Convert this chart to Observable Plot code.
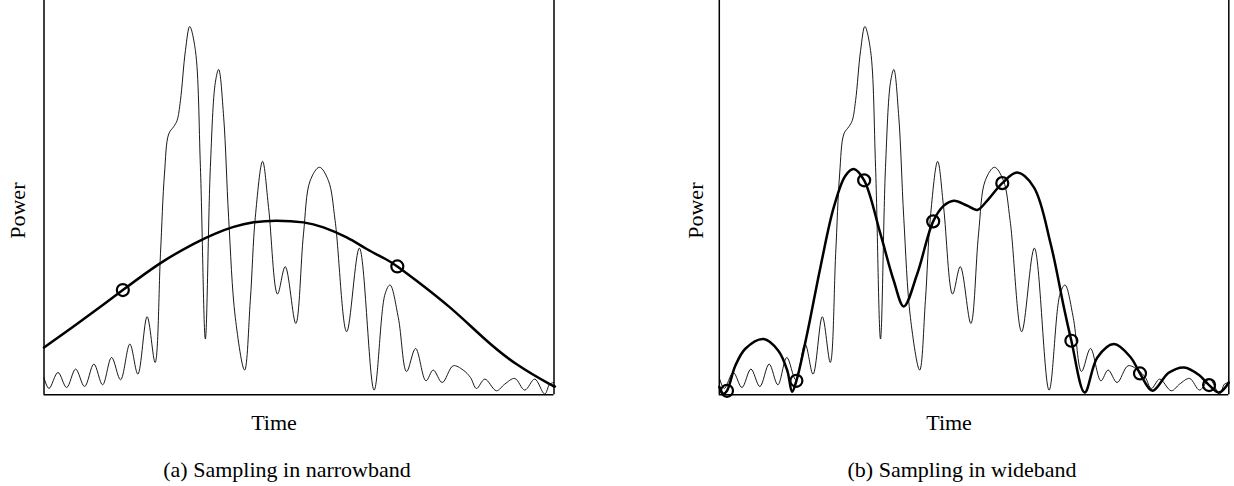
<!DOCTYPE html>
<html>
<head>
<meta charset="utf-8">
<script src="https://cdn.jsdelivr.net/npm/d3@7"></script>
<script src="https://cdn.jsdelivr.net/npm/@observablehq/plot@0.6"></script>
<style>
  html, body { margin: 0; padding: 0; background: #fff; }
  #wrap { display: flex; width: 1234px; height: 486px; }
</style>
</head>
<body>
<div id="wrap"></div>
<script>
// Underlying signal (thin line), same in both panels; time 0-100, power 0-100
const signalTime = [0, 0.98, 2.74, 4.44, 6.2, 7.96, 9.78, 11.49, 13.25, 15.01, 16.83, 18.4, 20.22, 21.78, 22.84, 23.62, 24.46, 25.44, 26.09, 26.75, 27.73, 28.57, 29.69, 30.67, 31.64, 32.62, 33.6, 34.25, 35.23, 36.2, 37.51, 39.33, 40.45, 41.43, 42.86, 44.03, 45.79, 47.3, 49.37, 50.88, 52.19, 54.01, 55.77, 57.08, 59.35, 61.84, 64.72, 66.87, 67.85, 69.47, 71.1, 72.86, 74.89, 76.32, 78.08, 80.23, 82.19, 83.62, 84.8, 86.44, 88.71, 90.35, 92.31, 94.27, 96.22, 98.18, 99.16, 100];
const signalPower = [4.3, 1.6, 5.66, 1.85, 6.52, 2.1, 7.79, 2.54, 9.47, 3.81, 12.87, 5.25, 19.8, 8.2, 35.79, 56.0, 66.17, 68.02, 69.54, 74.6, 87.3, 93.4, 87.3, 57.7, 14.14, 57.7, 79.26, 82.5, 70.4, 45.0, 19.6, 6.27, 23.86, 45.0, 59.2, 47.54, 25.56, 32.49, 18.1, 40.8, 54.3, 57.7, 54.3, 44.2, 16.0, 37.2, 1.19, 25.56, 27.84, 19.6, 5.9, 11.75, 3.55, 6.27, 3.12, 7.36, 6.27, 4.39, 1.6, 3.98, 1.02, 2.72, 4.14, 1.19, 3.98, 0.18, 2.72, 3.12];

// (a) narrowband reconstruction (thick line) and its samples
const narrowTime = [0, 6.52, 15.46, 22.84, 29.35, 33.6, 37.18, 41.1, 45.66, 50.88, 54.79, 59.35, 63.27, 66.87, 69.28, 73.05, 79.59, 86.1, 92.62, 99.16, 100];
const narrowPower = [12.0, 18.0, 26.57, 33.4, 38.3, 40.9, 42.6, 43.75, 44.16, 43.73, 42.46, 39.92, 36.98, 34.5, 32.56, 28.93, 22.16, 14.54, 7.79, 2.72, 2.28];
const narrowSampleTime = [15.46, 69.28];
const narrowSamplePower = [26.57, 32.56];

// (b) wideband reconstruction (thick line) and its samples
const wideTime = [0, 0.79, 1.51, 3.14, 5.11, 8.7, 11.59, 13.36, 14.28, 15.13, 17.23, 19.84, 22.46, 24.75, 26.39, 28.43, 31.63, 34.24, 36.21, 38.84, 41.98, 44.07, 46.03, 48.66, 50.63, 52.59, 55.54, 58.49, 61.75, 65.03, 67.64, 69.1, 71.71, 74.2, 77.47, 80.75, 82.57, 85.0, 88.2, 91.22, 94.1, 96.13, 98.1, 100];
const widePower = [2.03, 0.25, 1.02, 7.36, 11.68, 14.14, 11.17, 6.09, 0.76, 3.55, 15.41, 32.31, 47.54, 55.58, 57.28, 54.39, 40.79, 28.93, 22.41, 30.63, 43.98, 47.97, 49.24, 47.97, 46.88, 49.24, 53.68, 56.35, 52.61, 38.32, 22.16, 13.71, 0.58, 9.47, 12.87, 9.47, 5.41, 1.02, 5.58, 6.93, 5.08, 2.46, 0.58, 3.12];
const wideSampleTime = [1.51, 15.13, 28.43, 41.98, 55.54, 69.1, 82.57, 96.13];
const wideSamplePower = [1.02, 3.55, 54.39, 43.98, 53.68, 13.71, 5.41, 2.46];

const xLabel = "Time";
const yLabel = "Power";
const captions = ["(a) Sampling in narrowband", "(b) Sampling in wideband"];

const zip = (t, p) => t.map((d, i) => ({t: d, p: p[i]}));
const signal = zip(signalTime, signalPower);
const FONT = "Liberation Serif, Times New Roman, serif";

function panel({line, lineCurve, samples, caption, marginLeft, marginRight, yLabelDx}) {
  return Plot.plot({
    width: 617,
    height: 486,
    marginLeft,
    marginRight,
    marginTop: 0,
    marginBottom: 91.7,
    x: {domain: [0, 100], axis: null},
    y: {domain: [0, 100], axis: null},
    style: {fontFamily: FONT, background: "white", overflow: "visible"},
    marks: [
      Plot.line(signal, {x: "t", y: "p", stroke: "black", strokeWidth: 0.9, curve: "catmull-rom"}),
      Plot.line(line, {x: "t", y: "p", stroke: "black", strokeWidth: 2.5, curve: lineCurve}),
      Plot.dot(samples, {x: "t", y: "p", r: 6, stroke: "black", strokeWidth: 2.2, fill: "none"}),
      Plot.ruleX([0, 100], {stroke: "black", strokeWidth: 1.5}),
      Plot.ruleY([0], {stroke: "black", strokeWidth: 1.5}),
      Plot.text([xLabel], {frameAnchor: "bottom", lineAnchor: "bottom", dx: -25, dy: 35, fontSize: 22, fontFamily: FONT, fill: "black"}),
      Plot.text([caption], {frameAnchor: "bottom", lineAnchor: "bottom", dx: -12, dy: 82.4, fontSize: 22, fontFamily: FONT, fill: "black"}),
      Plot.text([yLabel], {frameAnchor: "left", lineAnchor: "bottom", textAnchor: "middle", rotate: -90, dx: yLabelDx, dy: 13, fontSize: 22, fontFamily: FONT, fill: "black"})
    ]
  });
}

const wrap = document.getElementById("wrap");
wrap.append(panel({
  line: zip(narrowTime, narrowPower),
  lineCurve: "natural",
  samples: zip(narrowSampleTime, narrowSamplePower),
  caption: captions[0],
  marginLeft: 43.5,
  marginRight: 63.5,
  yLabelDx: -19.5
}));
wrap.append(panel({
  line: zip(wideTime, widePower),
  lineCurve: "catmull-rom",
  samples: zip(wideSampleTime, wideSamplePower),
  caption: captions[1],
  marginLeft: 101.8,
  marginRight: 5.7,
  yLabelDx: -16
}));
</script>
</body>
</html>
